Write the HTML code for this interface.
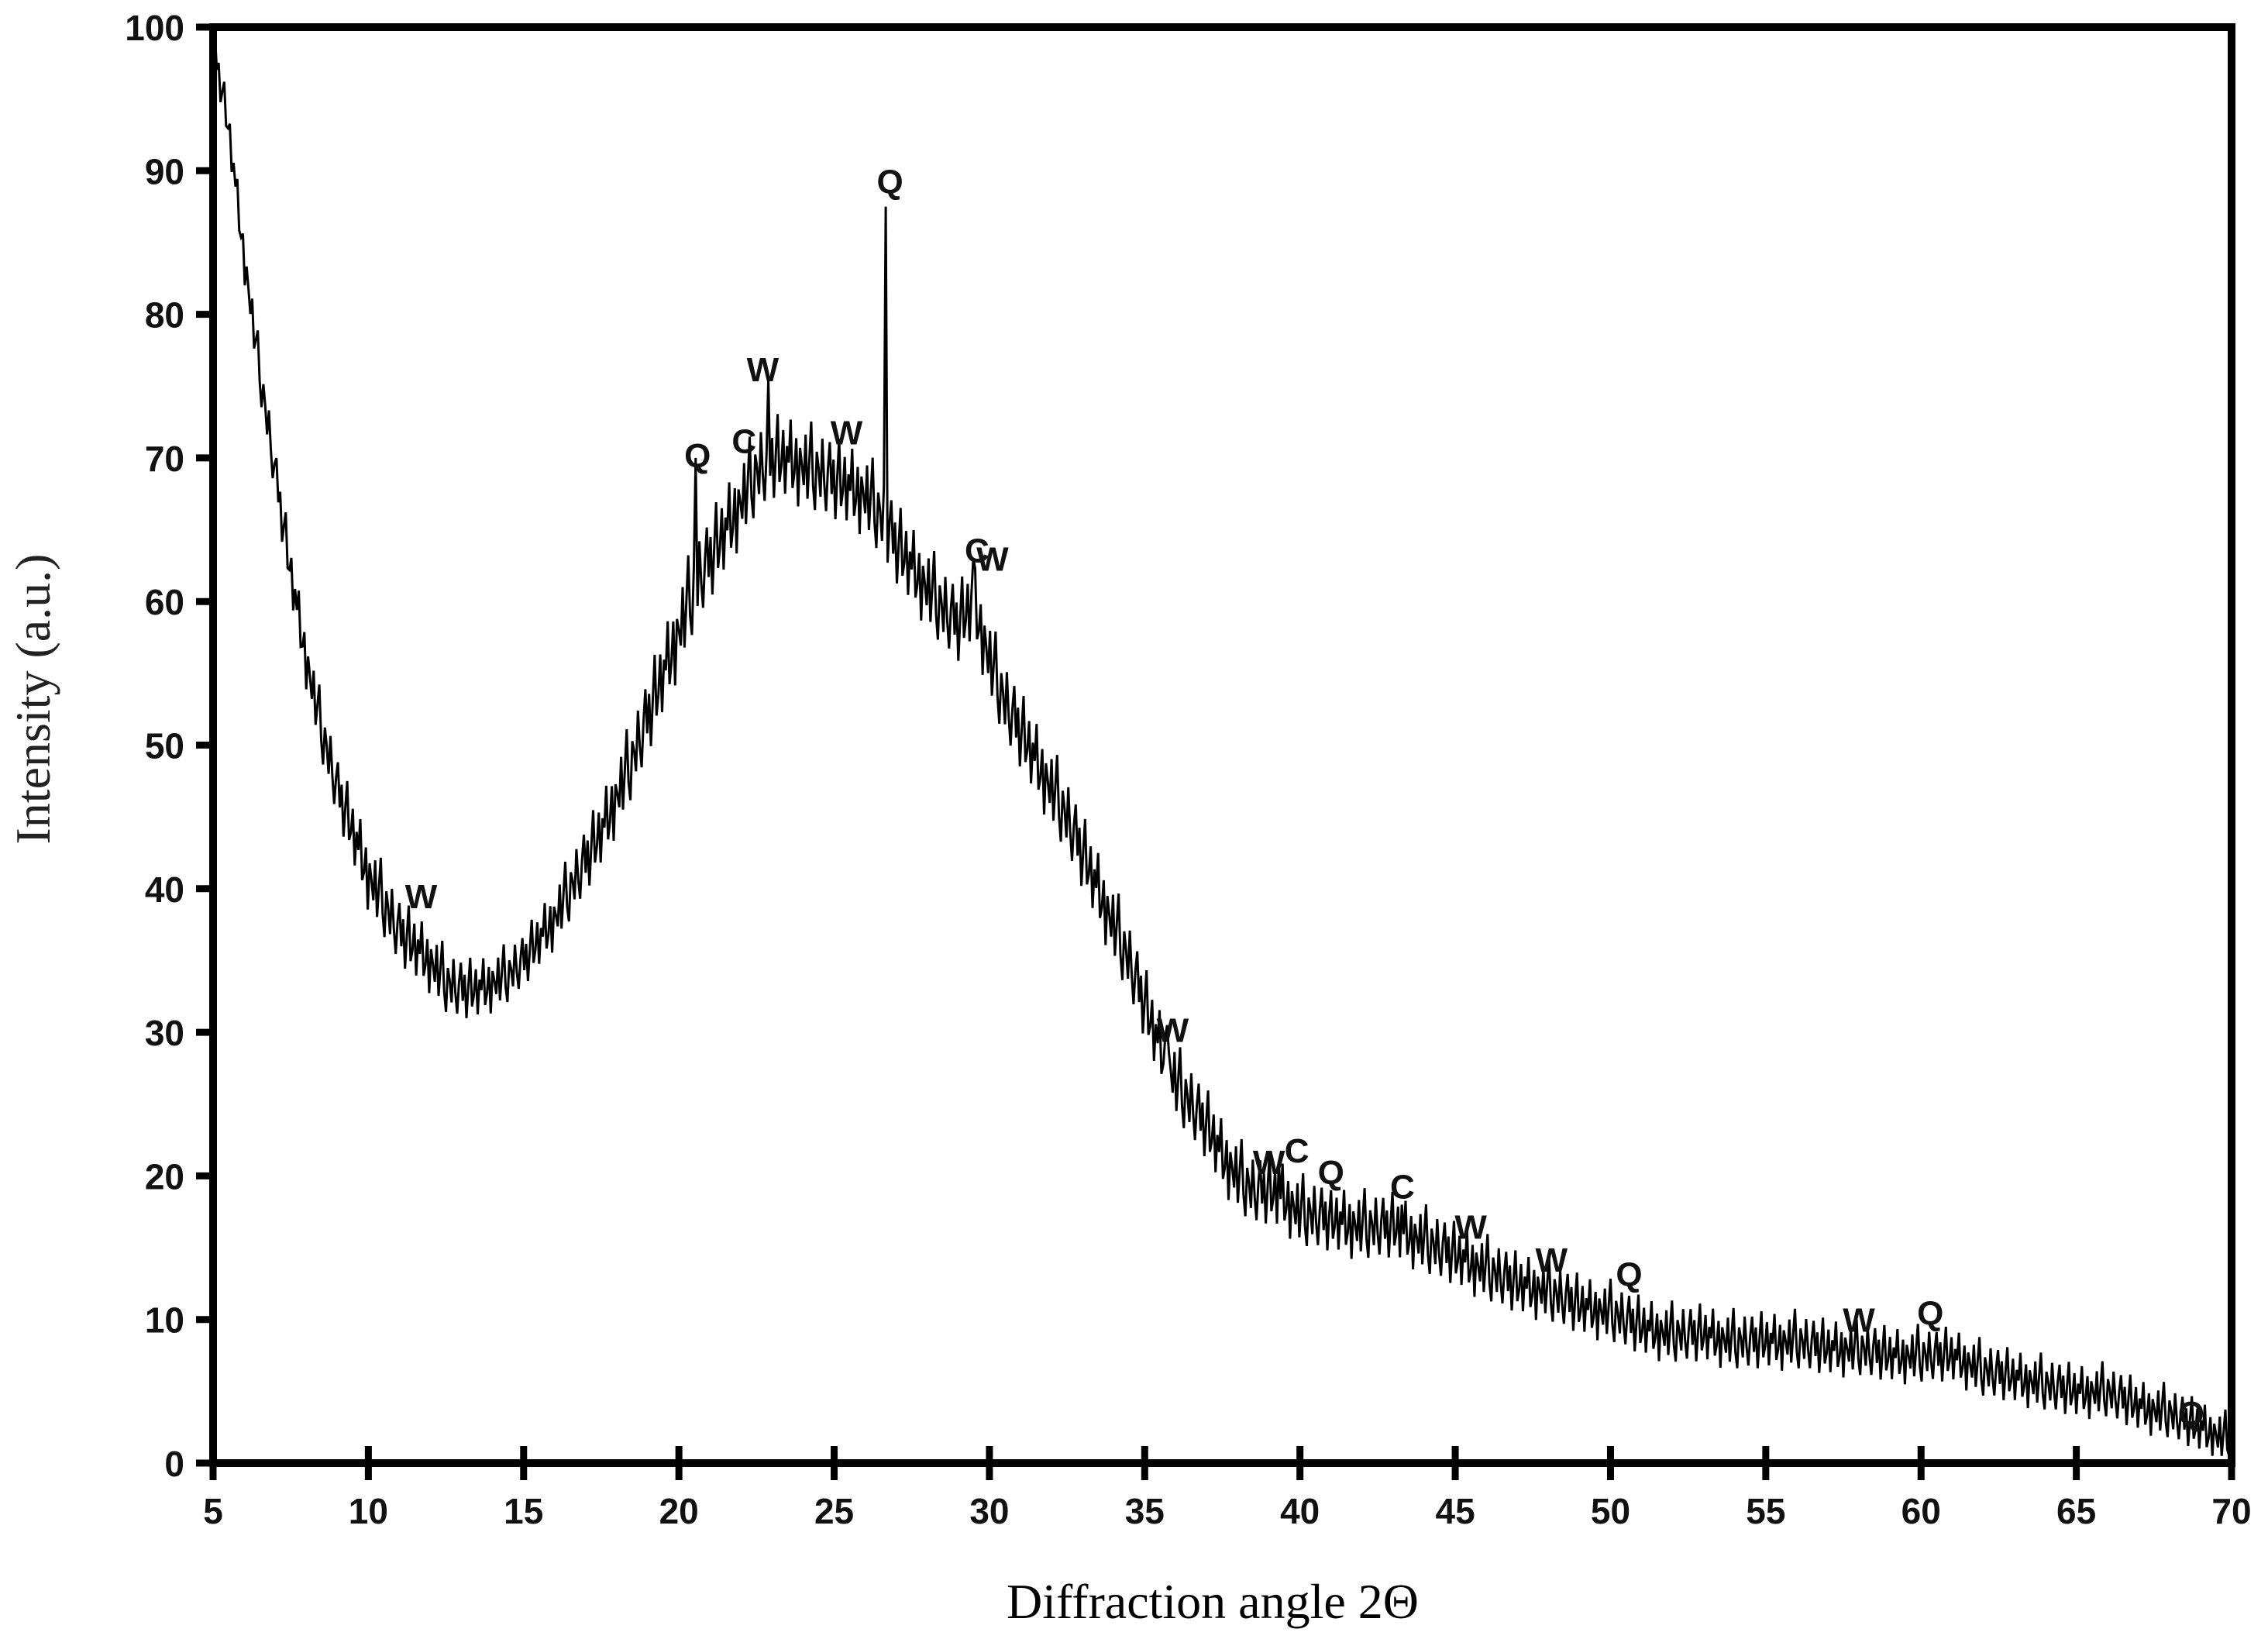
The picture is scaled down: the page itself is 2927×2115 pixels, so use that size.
<!DOCTYPE html>
<html><head><meta charset="utf-8"><style>
html,body{margin:0;padding:0;background:#fff;}
svg{display:block;}
</style></head><body>
<svg id="chart" width="2927" height="2115" viewBox="0 0 2927 2115" xmlns="http://www.w3.org/2000/svg">
<rect x="0" y="0" width="2927" height="2115" fill="#fff"/>
<g id="plot"></g>
<text transform="translate(64,902) rotate(-90)" text-anchor="middle" font-family="Liberation Serif, serif" font-size="64" fill="#222">Intensity (a.u.)</text>
<text x="1565" y="2088" text-anchor="middle" font-family="Liberation Serif, serif" font-size="64" fill="#000">Diffraction angle 2Θ</text>
</svg>
<script>
// ---- data ----
const envX = [5,5.5,6,6.5,7,7.5,8,8.5,9,9.5,10,10.5,11,11.5,12,12.5,13,13.5,14,14.5,15,15.5,16,16.5,17,17.5,18,18.5,19,19.5,20,20.5,21,21.5,22,22.5,23,23.5,24,24.5,25,25.5,26,26.5,27,27.5,28,28.5,29,29.5,30,30.5,31,31.5,32,32.5,33,33.5,34,34.5,35,35.5,36,36.5,37,37.5,38,38.5,39,39.5,40,41,42,43,44,45,46,47,48,49,50,51,52,53,54,55,56,57,58,59,60,61,62,63,64,65,66,67,68,69,70];
const envY = [99,93,84,76,69,62,56,51,47,44,41,39,37,36,35,33.5,33,33,33.5,34,35,36.5,38,40,42,44,46.5,49,52,55,58,61,63,65,67,69,70,70,69.5,69,68.5,68,67.5,66,64,62.5,61,59.5,58.5,60,56,53,51,49,47,45,42.5,40,37.5,35,32,29,26.5,25,23.5,21.5,20,19,19,18.5,17.5,17,16.5,16.5,15.5,14.5,13.5,12.5,12,11,10.5,9.5,9,9,8.5,8.5,8.5,8,8,7.5,7.5,7.5,6.5,6,5.5,5,5,4,3.5,2.5,1.5];
const spreadX = [5,10,15,20,30,38,50,70];
const spreadY = [1.0,1.8,1.4,2.2,2.0,1.8,1.5,1.3];
const noisePattern = [0.2,0.9,-0.4,0.5,-1.0,0.1,1.1,-0.6,-0.2,0.7,-0.9,0.3,-0.1,1.0,-0.7,-0.3,0.6,-1.1,0.4,0.0,-0.5,0.8,-0.8,0.2,1.2,-0.4,-1.0,0.5,0.1,-0.6,0.9,-0.2,-0.9];
const peakX = [20.55,22.9,26.65,29.45,35.7,39.3,41.0,43.3];
const peakY = [70,75.5,87.5,63,30.5,21,19,18];
const xTicks = [5,10,15,20,25,30,35,40,45,50,55,60,65,70];
const yTicks = [0,10,20,30,40,50,60,70,80,90,100];
const labelText = ["W","Q","C","W","W","Q","C","W","W","W","C","Q","C","W","W","Q","W","Q","Q"];
const labelX = [11.7,20.6,22.1,22.7,25.4,26.8,29.6,30.1,35.9,39.0,39.9,41.0,43.3,45.5,48.1,50.6,58.0,60.3,68.7];
const labelY = [39.5,70.2,71.2,76.2,71.8,89.3,63.6,63.0,30.2,21.0,21.8,20.3,19.3,16.5,14.2,13.2,10.0,10.5,3.5];

// ---- axes ----
const L=275,R=2880,T=35,B=1888;
const sx=v=>L+(v-5)/(70-5)*(R-L);
const sy=v=>B-(v-0)/(100-0)*(B-T);
const NS='http://www.w3.org/2000/svg';
const plot=document.getElementById('plot');
function mk(tag,attrs,parent){const e=document.createElementNS(NS,tag);for(const k in attrs)e.setAttribute(k,attrs[k]);(parent||plot).appendChild(e);return e;}
function interp(xa,ya,x){for(let i=0;i<xa.length-1;i++){if(x>=xa[i]&&x<=xa[i+1]){const t=(x-xa[i])/(xa[i+1]-xa[i]);return ya[i]+t*(ya[i+1]-ya[i]);}}return ya[ya.length-1];}

let pts=[];let k=0;
for(let x=5;x<=70.0001;x+=0.06){
  let y=interp(envX,envY,x);
  const s=interp(spreadX,spreadY,x);
  y+= s*noisePattern[k%noisePattern.length]*1.3;
  for(let p=0;p<peakX.length;p++){ if(Math.abs(x-peakX[p])<0.03) y=peakY[p]; }
  y=Math.max(0.5,Math.min(100,y));
  pts.push(sx(x).toFixed(1)+','+sy(y).toFixed(1));
  k++;
}
const line=mk('polyline',{points:pts.join(' '),fill:'none',stroke:'#000','stroke-width':3,'stroke-linejoin':'miter'});



const frame=mk('rect',{x:L,y:T,width:R-L,height:B-T,fill:'none',stroke:'#000','stroke-width':10});



xTicks.forEach(v=>{
  const t=mk('line',{x1:sx(v),x2:sx(v),y1:B-22,y2:B+22,stroke:'#000','stroke-width':9});
  
  
  const lb=mk('text',{x:sx(v),y:1966,'text-anchor':'middle','font-family':'Liberation Sans, sans-serif','font-size':46,'font-weight':'bold',fill:'#111'});
  lb.textContent=v;
  
  
});
yTicks.forEach(v=>{
  const t=mk('line',{x1:L-22,x2:L,y1:sy(v),y2:sy(v),stroke:'#000','stroke-width':9});
  
  
  const lb=mk('text',{x:238,y:sy(v)+17,'text-anchor':'end','font-family':'Liberation Sans, sans-serif','font-size':46,'font-weight':'bold',fill:'#111'});
  lb.textContent=v;
  
  
});
labelText.forEach((s,i)=>{
  const lb=mk('text',{x:sx(labelX[i]),y:sy(labelY[i])+16,'text-anchor':'middle','font-family':'Liberation Sans, sans-serif','font-size':44,'font-weight':'bold',fill:'#111'});
  lb.textContent=s;
  
  
});
</script>
</body></html>
